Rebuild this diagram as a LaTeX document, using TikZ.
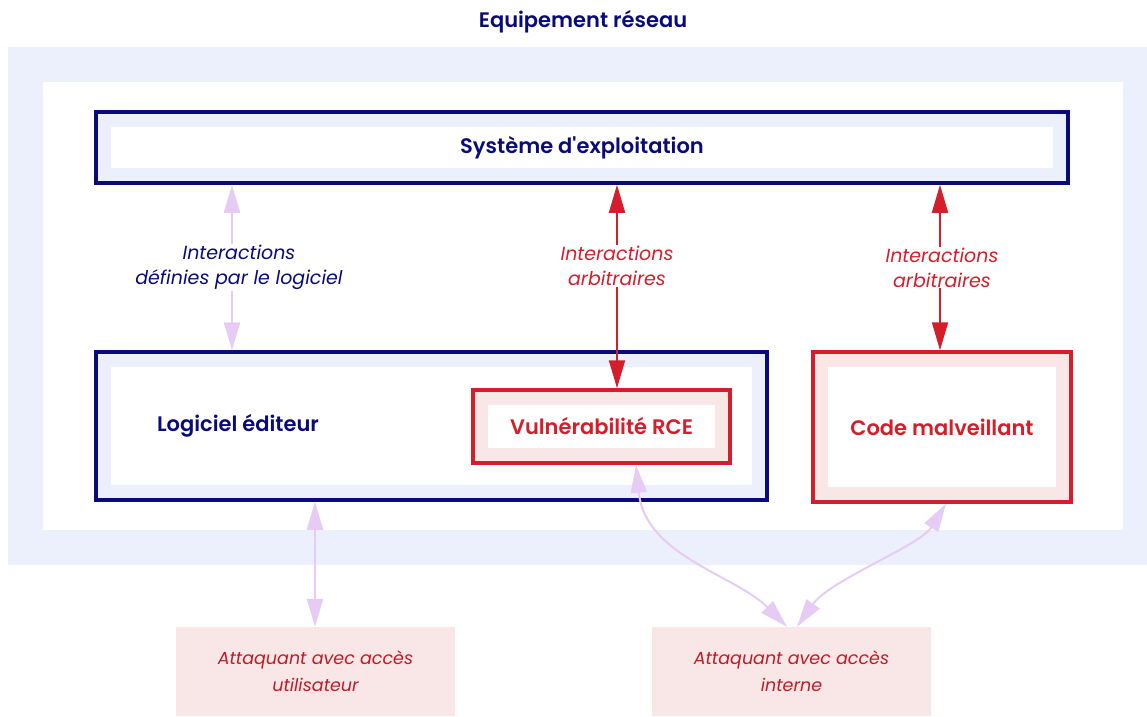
\documentclass[tikz,border=0pt]{standalone}
\usepackage{fontspec}
\setmainfont{Poppins}[BoldFont=* SemiBold, BoldItalicFont=* SemiBold Italic]
\usetikzlibrary{arrows.meta}

\definecolor{navy}{RGB}{10,11,122}
\definecolor{bandblue}{RGB}{236,240,252}
\definecolor{rcered}{RGB}{212,30,43}
\definecolor{bandpink}{RGB}{249,230,231}
\definecolor{lilac}{RGB}{230,204,244}

\tikzset{
  inset/.style={path picture={\fill[white]
      ([shift={(#1pt,-#1pt)}]path picture bounding box.north west) rectangle
      ([shift={(-#1pt,#1pt)}]path picture bounding box.south east);}},
  boxfont/.style={font=\fontsize{21}{24}\selectfont\bfseries},
  box/.style={draw, line width=3.5pt, inner sep=0pt, inset=15, boxfont},
  navybox/.style={box, draw=navy, fill=bandblue, text=navy},
  redbox/.style={box, draw=rcered, fill=bandpink, text=rcered},
  attacker/.style={fill=bandpink, text=rcered!90!black, align=center,
    font=\fontsize{17.5}{27}\selectfont\itshape, minimum width=279pt, minimum height=89pt},
  arrowlabel/.style={fill=white, align=center, inner sep=1pt,
    font=\fontsize{19}{25}\selectfont\itshape},
  bigtips/.style={{Triangle[width=16pt,length=28pt]}-{Triangle[width=16pt,length=28pt]}},
  lilacarrow/.style={bigtips, draw=lilac, line width=2pt},
  redarrow/.style={bigtips, draw=rcered, line width=2pt},
}

\begin{document}
\begin{tikzpicture}[x=1pt, y=-1pt]
  \useasboundingbox (0,0) rectangle (1147,716);
  % network equipment frame
  \fill[bandblue] (8,47) rectangle (1147,565);
  \fill[white] (43,82) rectangle (1123,530);
  \node[boxfont, text=navy] (title) at (583,22) {Equipement réseau};

  \node[navybox, minimum width=972pt, minimum height=71pt] (os) at (582,147.5) {Système d\textquotesingle exploitation};
  \node[navybox, minimum width=671pt, minimum height=148pt] (sw) at (431.5,426) {};
  \node[boxfont, text=navy] (swtext) at (238,426) {Logiciel éditeur};
  \node[redbox, minimum width=257pt, minimum height=73pt] (vuln) at (601.5,426.5) {Vulnérabilité RCE};
  \node[redbox, minimum width=258pt, minimum height=150pt] (code) at (942,427) {Code malveillant};

  % attackers
  \node[attacker] (user) at (315.5,671.5) {Attaquant avec accès\\utilisateur};
  \node[attacker] (insider) at (791.5,671.5) {Attaquant avec accès\\interne};

  \coordinate (xa) at (232,0);
  \coordinate (xb) at (617,0);
  \coordinate (xc) at (940,0);
  \coordinate (xd) at (315,0);
  \coordinate (xe) at (636,0);
  \coordinate (xf) at (787,0);
  \coordinate (xg) at (946,0);
  \coordinate (xh) at (797,0);

  \draw[lilacarrow] (os.south -| xa) -- node[arrowlabel, text=navy, xshift=7pt] {Interactions\\définies par le logiciel} (sw.north -| xa);
  \draw[redarrow] (os.south -| xb) -- node[arrowlabel, text=rcered, pos=.4] {Interactions\\arbitraires} (vuln.north -| xb);
  \draw[redarrow] (os.south -| xc) -- node[arrowlabel, text=rcered, xshift=2pt] {Interactions\\arbitraires} (code.north -| xc);

  \draw[lilacarrow] (sw.south -| xd) -- (user.north -| xd);
  \draw[lilacarrow] (vuln.south -| xe) .. controls +(9,91) and +(-52,-52) .. (insider.north -| xf);
  \draw[lilacarrow] (code.south -| xg) .. controls +(-26,42) and +(33,-47) .. (insider.north -| xh);
\end{tikzpicture}
\end{document}
